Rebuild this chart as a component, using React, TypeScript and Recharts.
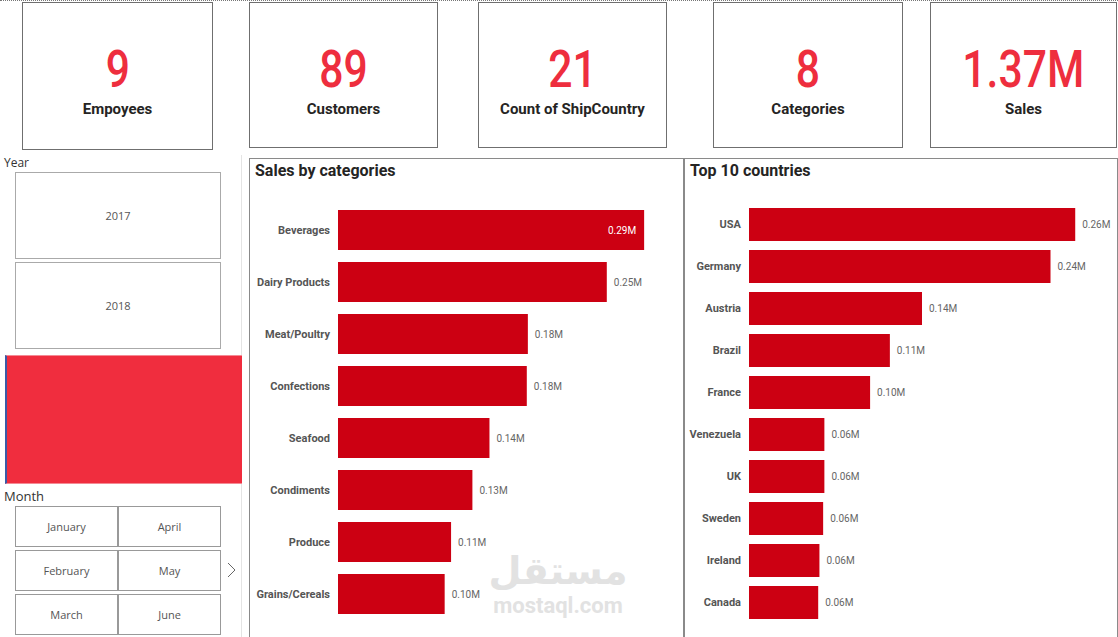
import React from "react";
import { Bar, BarChart, XAxis, YAxis } from "recharts";

// KPI cards
const kpiValues = ["9", "89", "21", "8", "1.37M"];
const kpiLabels = ["Empoyees", "Customers", "Count of ShipCountry", "Categories", "Sales"];

// slicers
const years = ["2017", "2018"];
const months = ["January", "February", "March", "April", "May", "June"];

// Sales by categories (M)
const categories = [
  "Beverages",
  "Dairy Products",
  "Meat/Poultry",
  "Confections",
  "Seafood",
  "Condiments",
  "Produce",
  "Grains/Cereals",
];
const categorySales = [0.287, 0.252, 0.178, 0.177, 0.142, 0.126, 0.106, 0.1];

// Top 10 countries (M)
const countries = ["USA", "Germany", "Austria", "Brazil", "France", "Venezuela", "UK", "Sweden", "Ireland", "Canada"];
const countrySales = [0.264, 0.244, 0.14, 0.114, 0.098, 0.061, 0.061, 0.06, 0.057, 0.056];

const RED = "#EE2E3E";
const BAR = "#CC0012";
const FONT = "Roboto, 'Noto Sans', sans-serif";

const kpiBoxes = [
  { left: 22, width: 191, height: 148 },
  { left: 249, width: 189, height: 146 },
  { left: 478, width: 189, height: 146 },
  { left: 713, width: 190, height: 146 },
  { left: 930, width: 187, height: 146 },
];

function valueLabel(max: number) {
  return (props: any) => {
    const { x, y, width, height, value } = props;
    const text = `${Number(value).toFixed(2)}M`;
    const inside = Number(value) / max > 0.95;
    return (
      <text
        x={inside ? x + width - 8 : x + width + 7}
        y={y + height / 2}
        dy="0.35em"
        textAnchor={inside ? "end" : "start"}
        fill={inside ? "#ffffff" : "#666666"}
        fontSize={10}
        fontFamily={FONT}
      >
        {text}
      </text>
    );
  };
}

// plain tick so long names stay on one line
function CategoryTick(props: any) {
  const { x, y, payload } = props;
  return (
    <text x={x} y={y} dy="0.35em" textAnchor="end" fontSize={11} fontWeight={700} fill="#555555" fontFamily={FONT}>
      {payload.value}
    </text>
  );
}

function Panel(props: {
  left: number;
  width: number;
  title: string;
  names: string[];
  values: number[];
  max: number;
  axisWidth: number;
  top: number;
  bottom: number;
  right: number;
  barSize: number;
}) {
  const data = props.names.map((name, i) => ({ name, value: props.values[i] }));
  return (
    <div
      style={{
        position: "absolute",
        left: props.left,
        top: 158,
        width: props.width,
        height: 480,
        border: "1px solid #8a8a8a",
        boxSizing: "border-box",
        background: "#fff",
      }}
    >
      <div
        style={{
          position: "absolute",
          left: 5,
          top: 1,
          fontFamily: FONT,
          fontWeight: 700,
          fontSize: 16,
          color: "#252423",
          lineHeight: "22px",
        }}
      >
        {props.title}
      </div>
      <div style={{ position: "absolute", left: 0, top: 0 }}>
        <BarChart
          width={props.width - 2}
          height={478}
          data={data}
          layout="vertical"
          margin={{ top: props.top, right: props.right, bottom: props.bottom, left: 0 }}
        >
          <XAxis type="number" domain={[0, props.max]} hide />
          <YAxis
            type="category"
            dataKey="name"
            width={props.axisWidth}
            interval={0}
            tickLine={false}
            axisLine={false}
            tick={<CategoryTick />}
          />
          <Bar
            dataKey="value"
            fill={BAR}
            barSize={props.barSize}
            isAnimationActive={false}
            label={valueLabel(props.max)}
          />
        </BarChart>
      </div>
    </div>
  );
}

export default function App() {
  return (
    <div
      style={{
        position: "absolute",
        left: 0,
        top: 0,
        width: 1118,
        height: 637,
        overflow: "hidden",
        background: "#ffffff",
        fontFamily: FONT,
      }}
    >
      <div style={{ position: "absolute", left: 0, top: 0, width: 1118, borderTop: "1px dotted #777" }} />

      {kpiBoxes.map((b, i) => (
        <div
          key={i}
          style={{
            position: "absolute",
            left: b.left,
            top: 2,
            width: b.width,
            height: b.height,
            border: "1px solid #6f6f6f",
            boxSizing: "border-box",
          }}
        >
          <div
            style={{
              position: "absolute",
              left: 0,
              width: "100%",
              top: 37,
              textAlign: "center",
              lineHeight: "60px",
              fontSize: 52,
              fontWeight: 500,
              color: RED,
            }}
          >
            <span style={{ display: "inline-block", transform: "scaleX(0.82)" }}>{kpiValues[i]}</span>
          </div>
          <div
            style={{
              position: "absolute",
              left: 0,
              width: "100%",
              top: 96,
              textAlign: "center",
              fontSize: 15,
              fontWeight: 700,
              color: "#252423",
              lineHeight: "20px",
            }}
          >
            {kpiLabels[i]}
          </div>
        </div>
      ))}

      {/* left slicers */}
      <div style={{ position: "absolute", left: 241, top: 155, width: 1, height: 482, background: "#e4e4e4" }} />
      <div style={{ position: "absolute", left: 4, top: 154, fontSize: 12, color: "#333", fontFamily: "'Open Sans', sans-serif" }}>
        Year
      </div>
      {years.map((y, i) => (
        <div
          key={y}
          style={{
            position: "absolute",
            left: 15,
            top: 172 + i * 90,
            width: 206,
            height: 87,
            border: "1px solid #aaaaaa",
            boxSizing: "border-box",
            display: "flex",
            alignItems: "center",
            justifyContent: "center",
            fontSize: 11,
            color: "#555",
            fontFamily: "'Open Sans', sans-serif",
          }}
        >
          {y}
        </div>
      ))}
      <div
        style={{
          position: "absolute",
          left: 5,
          top: 355,
          width: 237,
          height: 129,
          background: "#F02D3E",
          borderLeft: "2px solid #3b5aa6",
          borderTop: "1px solid #f48a94",
          borderBottom: "1px solid #f48a94",
          boxSizing: "border-box",
        }}
      />
      <div style={{ position: "absolute", left: 4, top: 487, fontSize: 13, color: "#333", fontFamily: "'Open Sans', sans-serif" }}>
        Month
      </div>
      {months.map((m, i) => (
        <div
          key={m}
          style={{
            position: "absolute",
            left: i < 3 ? 15 : 118,
            top: 506 + (i % 3) * 44,
            width: 103,
            height: 41,
            border: "1px solid #999999",
            boxSizing: "border-box",
            display: "flex",
            alignItems: "center",
            justifyContent: "center",
            fontSize: 11,
            color: "#555",
            fontFamily: "'Open Sans', sans-serif",
          }}
        >
          {m}
        </div>
      ))}
      <svg style={{ position: "absolute", left: 225, top: 560 }} width={14} height={20}>
        <polyline points="3,3 10,10 3,17" fill="none" stroke="#666" strokeWidth={1} />
      </svg>

      <Panel
        left={249}
        width={435}
        title="Sales by categories"
        names={categories}
        values={categorySales}
        max={0.3}
        axisWidth={88}
        top={45}
        bottom={17}
        right={25}
        barSize={40}
      />
      <Panel
        left={684}
        width={434}
        title="Top 10 countries"
        names={countries}
        values={countrySales}
        max={0.28}
        axisWidth={64}
        top={44}
        bottom={14}
        right={22}
        barSize={33}
      />

      {/* watermark */}
      <div
        style={{
          position: "absolute",
          left: 470,
          top: 548,
          width: 176,
          textAlign: "center",
          color: "#e2e2e2",
          pointerEvents: "none",
        }}
      >
        <div style={{ fontFamily: "'DejaVu Sans', sans-serif", fontWeight: 700, fontSize: 38, lineHeight: "46px" }}>مستقل</div>
        <div style={{ fontFamily: FONT, fontWeight: 700, fontSize: 22, lineHeight: "24px" }}>mostaql.com</div>
      </div>
    </div>
  );
}
